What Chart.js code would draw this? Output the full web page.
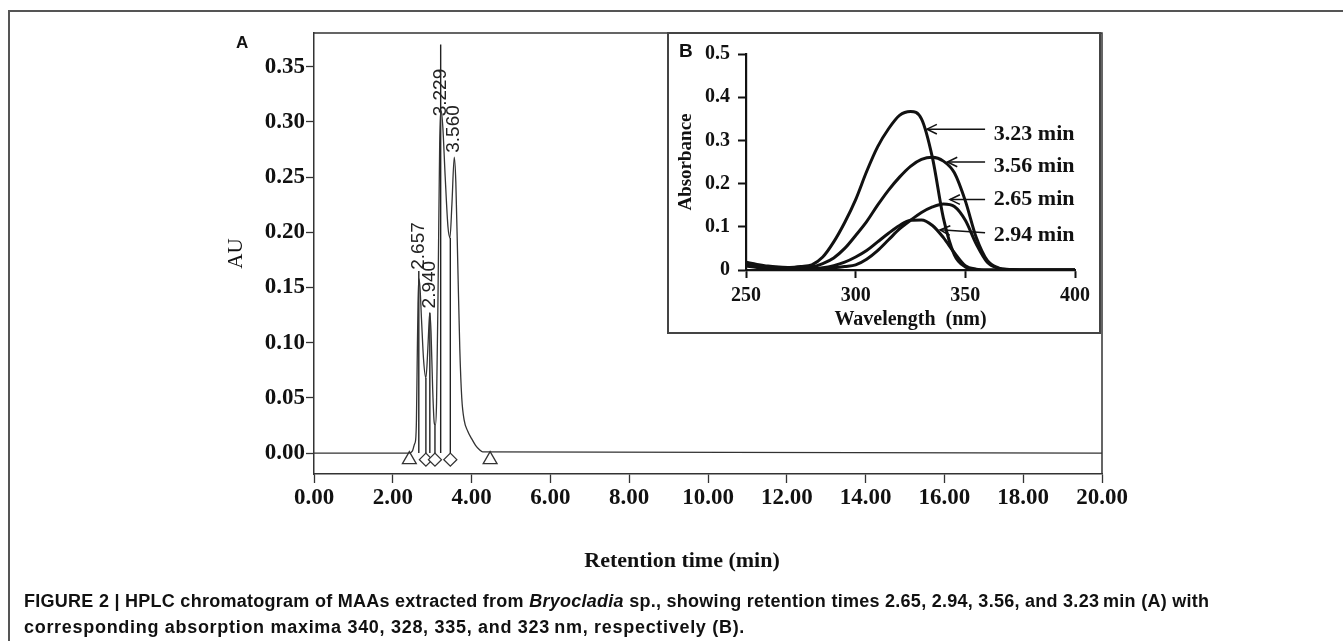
<!DOCTYPE html>
<html>
<head>
<meta charset="utf-8">
<script src="https://cdn.jsdelivr.net/npm/chart.js@4.4.1/dist/chart.umd.min.js"></script>
<style>
  html, body { margin:0; padding:0; background:#fff; }
  body { width:1343px; height:641px; position:relative; overflow:hidden; }
  #frameTop { position:absolute; left:8px; top:10px; width:1335px; height:2px; background:#555; }
  #frameLeft { position:absolute; left:8px; top:10px; width:2px; height:631px; background:#555; }
  #cA { position:absolute; left:0; top:0; }
  #inset { position:absolute; left:667px; top:32px; width:430px; height:298px; border:2px solid #444; background:#fff; }
  #cB { position:absolute; left:0; top:0; }
  .panel { position:absolute; font-family:"Liberation Sans", Arial, sans-serif; font-weight:bold; line-height:1; color:#111; }
  .cap { position:absolute; left:24px; font-family:"Liberation Sans", Arial, sans-serif; font-weight:bold; font-size:18px; line-height:1; color:#111; white-space:nowrap; }
</style>
</head>
<body>
<div id="frameTop"></div>
<div id="frameLeft"></div>
<canvas id="cA" width="1343" height="641"></canvas>
<div id="inset"><canvas id="cB" width="430" height="298"></canvas></div>
<div class="panel" style="left:236px;top:34px;font-size:17px;">A</div>
<div class="panel" style="left:679px;top:41px;font-size:19px;">B</div>
<div class="cap" style="top:592px;letter-spacing:0.27px;">FIGURE 2 | HPLC chromatogram of MAAs extracted from <i>Bryocladia</i> sp., showing retention times 2.65, 2.94, 3.56, and 3.23&#8201;min (A) with</div>
<div class="cap" style="top:618px;letter-spacing:0.7px;">corresponding absorption maxima 340, 328, 335, and 323&#8201;nm, respectively (B).</div>
<script>
// ---------- Panel A data: HPLC chromatogram ----------
const retTimes = [0, 2.40, 2.50, 2.55, 2.58, 2.60, 2.62, 2.64, 2.66, 2.69, 2.73, 2.78, 2.84, 2.89, 2.92, 2.94, 2.97, 3.01, 3.05, 3.08, 3.11, 3.15, 3.19, 3.23, 3.27, 3.33, 3.40, 3.45, 3.50, 3.56, 3.60, 3.65, 3.70, 3.75, 3.81, 3.90, 4.00, 4.10, 4.20, 4.28, 20];
const auValues = [0, 0, 0.002, 0.008, 0.012, 0.03, 0.085, 0.135, 0.158, 0.15, 0.12, 0.085, 0.068, 0.095, 0.118, 0.127, 0.11, 0.06, 0.028, 0.025, 0.045, 0.15, 0.28, 0.31, 0.295, 0.25, 0.205, 0.195, 0.225, 0.268, 0.245, 0.17, 0.095, 0.05, 0.03, 0.02, 0.013, 0.007, 0.003, 0.001, 0];
const dropTimes = [2.66, 2.84, 2.94, 3.07, 3.215, 3.46];
const dropTops  = [0.165, 0.068, 0.127, 0.025, 0.37, 0.195];
const triangleTimes = [2.42, 4.47];
const diamondTimes  = [2.84, 3.07, 3.46];
const markerLevel = -0.006;
const peakLabels = ['2.657', '2.940', '3.229', '3.560'];
const peakLabelBase = [0.166, 0.131, 0.305, 0.272];
const xTicksA = [0, 2, 4, 6, 8, 10, 12, 14, 16, 18, 20];
const yTicksA = [0, 0.05, 0.10, 0.15, 0.20, 0.25, 0.30, 0.35];
const xTitleA = 'Retention time (min)';

// ---------- Panel B data: absorption spectra ----------
const wavelengths = [250,255,260,265,270,275,280,285,290,295,300,305,310,315,320,325,330,335,340,345,350,355,360,365,370,375,380,385,390,395,400];
const spec323 = [0.018,0.013,0.009,0.007,0.006,0.008,0.012,0.030,0.065,0.110,0.163,0.228,0.285,0.327,0.358,0.367,0.350,0.260,0.120,0.035,0.007,0.001,0,0,0,0,0,0,0,0,0];
const spec356 = [0.014,0.009,0.006,0.004,0.003,0.004,0.007,0.015,0.028,0.050,0.080,0.112,0.150,0.185,0.215,0.240,0.256,0.261,0.252,0.225,0.160,0.075,0.022,0.005,0.001,0,0,0,0,0,0];
const spec265 = [0.011,0.008,0.005,0.003,0.002,0.002,0.002,0.003,0.005,0.008,0.012,0.025,0.045,0.070,0.095,0.115,0.133,0.146,0.153,0.147,0.115,0.060,0.018,0.004,0.001,0,0,0,0,0,0];
const spec294 = [0.009,0.006,0.004,0.003,0.002,0.002,0.003,0.005,0.010,0.018,0.030,0.045,0.065,0.085,0.103,0.115,0.116,0.103,0.075,0.040,0.010,0.002,0,0,0,0,0,0,0,0,0];
const specNames = ['3.23 min', '3.56 min', '2.65 min', '2.94 min'];
const arrowTipNm  = [332.5, 341.8, 343.0, 338.5];
const arrowTipAbs = [0.326, 0.250, 0.163, 0.093];
const arrowTailAbs = [0.326, 0.250, 0.163, 0.086];
const arrowTailNm = 359;
const labelNm = 363;
const labelAbs = [0.315, 0.239, 0.163, 0.080];
const xTicksB = [250, 300, 350, 400];
const yTicksB = [0, 0.1, 0.2, 0.3, 0.4, 0.5];

const serif = '"Liberation Serif", "Times New Roman", serif';
const sans = '"Liberation Sans", Arial, sans-serif';

// ---------- plugins ----------
const frameA = {
  id: 'frameA',
  afterDraw(chart) {
    const {ctx, chartArea: a} = chart;
    ctx.save();
    ctx.strokeStyle = '#333'; ctx.lineWidth = 1.5;
    ctx.beginPath();
    ctx.moveTo(a.left, a.top); ctx.lineTo(a.right, a.top); ctx.lineTo(a.right, a.bottom);
    ctx.stroke();
    // x-axis title (slightly left of centre, as in the original figure)
    ctx.fillStyle = '#111';
    ctx.font = 'bold 22px ' + serif;
    ctx.textAlign = 'center'; ctx.textBaseline = 'middle';
    ctx.fillText(xTitleA, (a.left + a.right) / 2 - 26, a.bottom + 87);
    ctx.restore();
  }
};
const peakLabelPlugin = {
  id: 'peakLabels',
  afterDatasetsDraw(chart) {
    const {ctx, scales} = chart;
    ctx.save();
    ctx.fillStyle = '#222';
    ctx.font = '19px ' + sans;
    ctx.textAlign = 'left'; ctx.textBaseline = 'middle';
    peakLabels.forEach((t, i) => {
      const px = scales.x.getPixelForValue(parseFloat(t));
      const py = scales.y.getPixelForValue(peakLabelBase[i]);
      ctx.save(); ctx.translate(px, py); ctx.rotate(-Math.PI / 2);
      ctx.fillText(t, 0, 0); ctx.restore();
    });
    ctx.restore();
  }
};
const arrowPlugin = {
  id: 'arrows',
  afterDatasetsDraw(chart) {
    const {ctx, scales} = chart;
    ctx.save();
    ctx.strokeStyle = '#111'; ctx.fillStyle = '#111'; ctx.lineWidth = 1.5;
    ctx.font = 'bold 22px ' + serif;
    ctx.textAlign = 'left'; ctx.textBaseline = 'middle';
    specNames.forEach((name, i) => {
      const tx = scales.x.getPixelForValue(arrowTipNm[i]);
      const ty = scales.y.getPixelForValue(arrowTipAbs[i]);
      const sx = scales.x.getPixelForValue(arrowTailNm);
      const sy = scales.y.getPixelForValue(arrowTailAbs[i]);
      ctx.beginPath(); ctx.moveTo(sx, sy); ctx.lineTo(tx, ty); ctx.stroke();
      const ang = Math.atan2(ty - sy, tx - sx);
      const L = 11, sp = 0.45;
      ctx.beginPath();
      ctx.moveTo(tx - L * Math.cos(ang - sp), ty - L * Math.sin(ang - sp));
      ctx.lineTo(tx, ty);
      ctx.lineTo(tx - L * Math.cos(ang + sp), ty - L * Math.sin(ang + sp));
      ctx.stroke();
      ctx.fillText(name, scales.x.getPixelForValue(labelNm), scales.y.getPixelForValue(labelAbs[i]));
    });
    ctx.restore();
  }
};

// ---------- Chart A ----------
const traceData = retTimes.map((t, i) => ({x: t, y: auValues[i]}));
const dropSets = dropTimes.map((t, i) => ({
  data: [{x: t, y: 0}, {x: t, y: dropTops[i]}],
  borderColor: '#222', borderWidth: 1.4, pointRadius: 0, tension: 0
}));
new Chart(document.getElementById('cA'), {
  type: 'line',
  data: {
    datasets: [
      { data: traceData, borderColor: '#333', borderWidth: 1.3, pointRadius: 0, cubicInterpolationMode: 'monotone' },
      ...dropSets,
      { data: triangleTimes.map(t => ({x: t, y: markerLevel})), showLine: false, pointStyle: 'triangle', pointRadius: 8, pointBackgroundColor: '#fff', pointBorderColor: '#333', pointBorderWidth: 1.3 },
      { data: diamondTimes.map(t => ({x: t, y: markerLevel})), showLine: false, pointStyle: 'rectRot', pointRadius: 6.5, pointBackgroundColor: '#fff', pointBorderColor: '#333', pointBorderWidth: 1.3 }
    ]
  },
  options: {
    responsive: false, animation: false, events: [],
    layout: { padding: { left: 220, right: 241, top: 33, bottom: 62 } },
    plugins: { legend: { display: false }, tooltip: { enabled: false } },
    scales: {
      x: {
        type: 'linear', min: 0, max: 20,
        afterBuildTicks: s => { s.ticks = xTicksA.map(v => ({value: v})); },
        afterFit: s => { s.height = 105; },
        grid: { drawOnChartArea: false, drawTicks: true, tickLength: 9, tickColor: '#333', tickWidth: 1.3 },
        border: { display: true, color: '#333', width: 1.5 },
        ticks: { color: '#111', font: { family: serif, weight: 'bold', size: 23 }, padding: 1, maxRotation: 0, autoSkip: false, callback: v => Number(v).toFixed(2) },
        title: { display: false }
      },
      y: {
        type: 'linear', min: -0.019, max: 0.3805,
        afterBuildTicks: s => { s.ticks = yTicksA.map(v => ({value: v})); },
        afterFit: s => { s.width = 94; },
        grid: { drawOnChartArea: false, drawTicks: true, tickLength: 8, tickColor: '#333', tickWidth: 1.3 },
        border: { display: true, color: '#333', width: 1.5 },
        ticks: { color: '#111', font: { family: serif, weight: 'bold', size: 23 }, padding: 1, autoSkip: false, callback: v => Number(v).toFixed(2) },
        title: { display: true, text: 'AU', color: '#111', font: { family: serif, weight: 'normal', size: 21 }, padding: { top: 4, bottom: 0 } }
      }
    }
  },
  plugins: [frameA, peakLabelPlugin]
});

// ---------- Chart B (inset) ----------
const specSeries = [spec323, spec356, spec265, spec294];
new Chart(document.getElementById('cB'), {
  type: 'line',
  data: {
    datasets: specSeries.map(s => ({
      data: wavelengths.map((w, i) => ({x: w, y: s[i]})),
      borderColor: '#111', borderWidth: 3, pointRadius: 0, cubicInterpolationMode: 'monotone'
    }))
  },
  options: {
    responsive: false, animation: false, events: [],
    layout: { padding: { left: 5, right: 24, top: 17.7, bottom: 0 } },
    plugins: { legend: { display: false }, tooltip: { enabled: false } },
    scales: {
      x: {
        type: 'linear', min: 250, max: 400,
        afterBuildTicks: s => { s.ticks = xTicksB.map(v => ({value: v})); },
        afterFit: s => { s.height = 62; },
        grid: { drawOnChartArea: false, drawTicks: true, tickLength: 8, tickColor: '#111', tickWidth: 2 },
        border: { display: true, color: '#111', width: 2.2 },
        ticks: { color: '#111', font: { family: serif, weight: 'bold', size: 20 }, padding: 6, maxRotation: 0, autoSkip: false },
        title: { display: true, text: 'Wavelength  (nm)', color: '#111', font: { family: serif, weight: 'bold', size: 20 }, padding: { top: 0, bottom: 0 } }
      },
      y: {
        type: 'linear', min: 0, max: 0.5,
        afterBuildTicks: s => { s.ticks = yTicksB.map(v => ({value: v})); },
        afterFit: s => { s.width = 72; },
        grid: { drawOnChartArea: false, drawTicks: true, tickLength: 8, tickColor: '#111', tickWidth: 2 },
        border: { display: true, color: '#111', width: 2.2 },
        ticks: { color: '#111', font: { family: serif, weight: 'bold', size: 20 }, padding: 8, autoSkip: false },
        title: { display: true, text: 'Absorbance', color: '#111', font: { family: serif, weight: 'bold', size: 19 }, padding: { top: 1, bottom: 0 } }
      }
    }
  },
  plugins: [arrowPlugin]
});
</script>
</body>
</html>
